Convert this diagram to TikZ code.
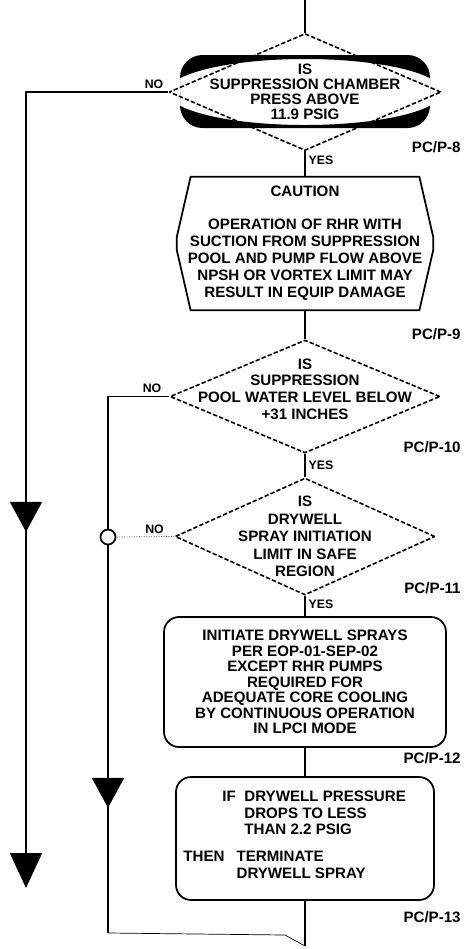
\documentclass[tikz,border=0pt]{standalone}
\usepackage{fontspec}
\setmainfont{Liberation Sans}
\usetikzlibrary{arrows.meta,positioning,shapes.geometric,decorations.markings}

\tikzset{
  bigtri/.tip={Triangle[width=0.64cm,length=0.6cm]},
  midtri/.style={postaction={decorate},
    decoration={markings,mark=at position #1 with {\arrow{bigtri}}}},
}

\begin{document}
\begin{tikzpicture}[node distance=3cm,line join=bevel,
  every node/.style={font=\fontsize{8.6}{9.4}\selectfont\bfseries},
  flow/.style={line width=1.1pt},
  qline/.style={line width=0.9pt,dash pattern=on 2.5pt off 1.2pt},
  query/.style={diamond,draw,qline,inner sep=0},
  boxr/.style={rectangle,draw,rounded corners=0.3cm,line width=1pt,inner sep=0},
  txt/.style={align=center,inner sep=0},
  yn/.style={font=\fontsize{7}{8}\selectfont\bfseries,inner sep=1.5pt},
  tag/.style={anchor=east,inner sep=0}]
\useasboundingbox (0,0) rectangle (9.32,-18.98);

\node [query,minimum width=5.44cm,minimum height=2.34cm] at (6.10,-1.84) (d1) {};
\node [below of=d1,node distance=3.03cm,rectangle,minimum width=5.12cm,minimum height=2.66cm,inner sep=0] (cau) {};
\node [below of=cau,node distance=3.06cm,query,minimum width=5.4cm,minimum height=2.26cm] (d3) {};
\node [below of=d3,node distance=2.8cm,query,minimum width=5.2cm,minimum height=2.34cm] (d4) {};
\node [below of=d4,node distance=2.91cm,boxr,minimum width=5.64cm,minimum height=2.6cm] (b5) {};
\node [below of=b5,node distance=3.13cm,boxr,minimum width=5.16cm,minimum height=2.46cm] (b6) {};

\begin{scope}
\clip ([shift={(-2.5,0.74)}]d1.center) rectangle ([shift={(2.5,-0.72)}]d1.center);
\fill [even odd rule,rounded corners=0.45cm] ([shift={(-2.5,0.74)}]d1.center) rectangle ([shift={(2.5,-0.72)}]d1.center)
  (d1.center) ellipse [x radius=2.75cm,y radius=0.66cm];
\end{scope}

\draw [line width=1pt] ([xshift=0.28cm]cau.north west) -- ([xshift=-0.28cm]cau.north east)
  -- ([yshift=0.12cm]cau.east) -- ([yshift=-0.12cm]cau.east) -- ([xshift=-0.28cm]cau.south east)
  -- ([xshift=0.28cm]cau.south west) -- ([yshift=-0.12cm]cau.west) -- ([yshift=0.12cm]cau.west) -- cycle;

\node [txt,font=\fontsize{8.6}{8.5}\selectfont\bfseries] at (d1) (t1) {IS\\ SUPPRESSION CHAMBER\\ PRESS ABOVE\\ 11.9 PSIG};
\node [txt,font=\fontsize{8.6}{9.7}\selectfont\bfseries] at (cau) (t2) {CAUTION\\[0.32cm] OPERATION OF RHR WITH\\ SUCTION FROM SUPPRESSION\\ POOL AND PUMP FLOW ABOVE\\ NPSH OR VORTEX LIMIT MAY\\ RESULT IN EQUIP DAMAGE};
\node [txt,font=\fontsize{8.6}{9.5}\selectfont\bfseries,yshift=0.15cm] at (d3) (t3) {IS\\ SUPPRESSION\\ POOL WATER LEVEL BELOW\\ +31 INCHES};
\node [txt,font=\fontsize{8.6}{9.9}\selectfont\bfseries] at (d4) (t4) {IS\\ DRYWELL\\ SPRAY INITIATION\\ LIMIT IN SAFE\\ REGION};
\node [txt,font=\fontsize{8.6}{8.8}\selectfont\bfseries] at (b5) (t5) {INITIATE DRYWELL SPRAYS\\ PER EOP-01-SEP-02\\ EXCEPT RHR PUMPS\\ REQUIRED FOR\\ ADEQUATE CORE COOLING\\ BY CONTINUOUS OPERATION\\ IN LPCI MODE};
\node [anchor=west,inner sep=0] at ([xshift=0.94cm,yshift=0.47cm]b6.west) (t6a)
  {\begin{tabular}{@{}l@{\hspace{0.17cm}}l@{}}IF & DRYWELL PRESSURE\\ & DROPS TO LESS\\ & THAN 2.2 PSIG\end{tabular}};
\node [anchor=west,inner sep=0] at ([xshift=0.16cm,yshift=-0.56cm]b6.west) (t6b)
  {\begin{tabular}{@{}l@{\hspace{0.24cm}}l@{}}THEN & TERMINATE\\ & DRYWELL SPRAY\end{tabular}};

\coordinate (mtop) at (6.10,0);
\coordinate (mend) at (6.10,-18.92);
\coordinate (a1) at (0.52,-17.76);
\coordinate (c2) at (2.16,-18.66);
\coordinate (c3) at (5.7,-18.7);

\draw [flow] (mtop) -- (d1.north);
\draw [flow] (d1.south) edge node[yn,right,pos=0.35] {YES} (cau.north);
\draw [flow] (cau.south) edge (d3.north);
\draw [flow] (d3.south) edge node[yn,right,pos=0.5] {YES} (d4.north);
\draw [flow] (d4.south) edge node[yn,right,pos=0.4] {YES} (b5.north);
\draw [flow] (b5.south) edge (b6.north);
\draw [flow] (b6.south) -- (mend);

\draw [flow,midtri=11.64cm,-{Triangle[width=0.64cm,length=0.7cm]}] (d1.west) -| node[yn,above,pos=0.05] {NO} (a1);
\draw [flow,midtri=9.45cm] (d3.west) -| node[yn,above,pos=0.14] {NO} (c2);
\draw [thin] (c2) -- (c3) -- (mend);
\node [circle,draw,fill=white,line width=1pt,minimum size=0.3cm,inner sep=0] at (2.16,-10.74) (jn) {};
\draw [thin,densely dotted] (d4.west) -- node[yn,above,pos=0.34] {NO} (jn.east);

\foreach \n/\y in {8/-2.94,9/-6.68,10/-8.94,11/-11.76,12/-15.16,13/-18.34}
  \node [tag] at (9.22,\y) (p\n) {PC/P-\n};
\end{tikzpicture}
\end{document}
